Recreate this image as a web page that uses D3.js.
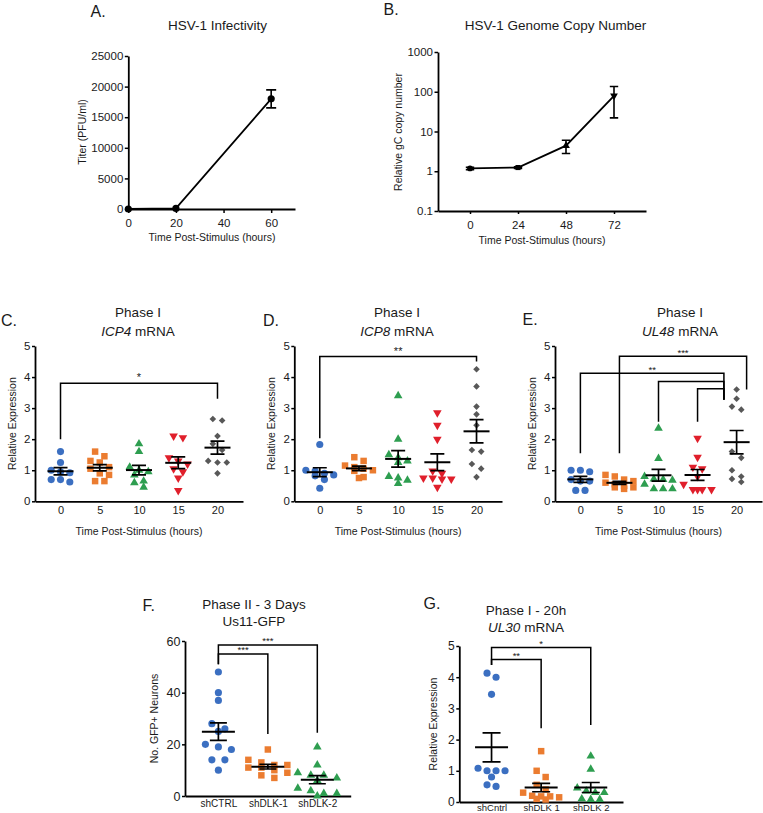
<!DOCTYPE html>
<html><head><meta charset="utf-8">
<script src="https://cdn.jsdelivr.net/npm/d3@7"></script>
<style>
body{margin:0;background:#fff}
svg{display:block}
text{font-family:"Liberation Sans",Arial,sans-serif;fill:#1a1a1a}
</style>
</head><body>
<svg id="c" width="763" height="813"></svg>
<script>
// ---------------- DATA ----------------
// A. HSV-1 infectivity
const infX = [0, 20, 60];
const infY = [0, 100, 18000];
const infSem = [0, 60, 1470];
const infTicksY = [0, 5000, 10000, 15000, 20000, 25000];
const infTicksX = [0, 20, 40, 60];

// B. Genome copy number
const gcX = [0, 24, 48, 72];
const gcY = [1.18, 1.24, 4.4, 79];
const gcSem = [0.08, 0.06, 1.6, 57];
const gcTicksY = [0.1, 1, 10, 100, 1000];
const gcTicksX = [0, 24, 48, 72];

// C-E. Phase I time course
const timeCats = ["0", "5", "10", "15", "20"];
const relTicks = [0, 1, 2, 3, 4, 5];
const icp4 = [
  [1.6, 1.25, 1.0, 0.95, 0.92, 0.7, 0.7, 0.62],
  [1.6, 1.45, 1.3, 1.25, 1.1, 1.05, 0.9, 0.85, 0.65, 0.65],
  [1.85, 1.6, 1.1, 1.0, 0.95, 0.85, 0.65, 0.6, 0.45],
  [2.1, 2.05, 1.4, 1.3, 1.2, 1.05, 0.95, 0.75, 0.35],
  [2.65, 2.6, 2.1, 1.85, 1.65, 1.3, 1.25, 1.25, 0.9]
];
const icp8 = [
  [1.83, 1.0, 0.97, 0.9, 0.85, 0.82, 0.7, 0.42],
  [1.42, 1.3, 1.15, 1.1, 1.05, 1.0, 0.98, 0.78, 0.75],
  [3.4, 2.0, 1.5, 1.4, 1.3, 1.25, 0.8, 0.75, 0.68, 0.57],
  [2.85, 2.45, 2.0, 0.98, 0.9, 0.75, 0.75, 0.72, 0.72, 0.45],
  [4.25, 3.7, 3.05, 2.8, 2.45, 1.65, 1.6, 1.2, 1.05, 0.78]
];
const ul48 = [
  [1.0, 1.0, 0.95, 0.7, 0.65, 0.65, 0.35, 0.35],
  [0.85, 0.8, 0.7, 0.65, 0.6, 0.55, 0.5, 0.45, 0.45, 0.4],
  [2.35, 1.38, 0.8, 0.72, 0.7, 0.68, 0.55, 0.4, 0.4, 0.4],
  [2.03, 1.42, 1.1, 1.05, 0.8, 0.55, 0.38, 0.38, 0.38, 0.38],
  [3.6, 3.3, 3.05, 2.95, 1.6, 1.4, 1.0, 0.8, 0.72, 0.62]
];

// F. Us11-GFP
const shCatsF = ["shCTRL", "shDLK-1", "shDLK-2"];
const gfpTicks = [0, 20, 40, 60];
const gfp = [
  [48, 40, 37, 28, 26, 25, 20, 19, 18, 14, 14, 10],
  [18, 14, 13, 12, 12, 11, 11, 10, 9, 8, 7],
  [19, 12, 9, 8, 8, 7, 6, 3, 2, 1, 1, 0]
];

// G. UL30
const shCatsG = ["shCntrl", "shDLK 1", "shDLK 2"];
const ul30 = [
  [4.13, 4.0, 3.45, 1.08, 1.0, 1.0, 1.0, 0.8, 0.55, 0.5],
  [1.63, 1.0, 0.8, 0.55, 0.4, 0.3, 0.2, 0.18, 0.18, 0.15, 0.1, 0.08],
  [1.47, 1.05, 0.45, 0.35, 0.3, 0.3, 0.1, 0.08, 0.08]
];

// significance brackets (values in data units)
const icp4Brackets = [{from: "0", to: "20", yFrom: 2.0, yTop: 3.8, yTo: 3.3, label: "*", side: 0}];
const icp8Brackets = [{from: "0", to: "20", yFrom: 2.03, yTop: 4.66, yTo: 4.5, label: "**", side: 0}];
const ul48Brackets = [
  {from: "5", to: "20", yFrom: 1.55, yTop: 4.67, yTo: 3.6, label: "***", side: 1},
  {from: "0", to: "20", yFrom: 1.55, yTop: 4.12, yTo: 3.27, label: "**", side: -1},
  {from: "10", to: "20", yFrom: 2.56, yTop: 3.86, yTo: 3.27, label: "", side: -1},
  {from: "15", to: "20", yFrom: 2.56, yTop: 3.62, yTo: 3.27, label: "", side: -1}
];
const gfpBrackets = [
  {from: "shCTRL", to: "shDLK-2", yFrom: 51, yTop: 58.5, yTo: 24.5, label: "***", side: 0},
  {from: "shCTRL", to: "shDLK-1", yFrom: 51, yTop: 55, yTo: 24, label: "***", side: 0}
];
const ul30Brackets = [
  {from: "shCntrl", to: "shDLK 2", yFrom: 4.39, yTop: 4.95, yTo: 2.47, label: "*", side: 0},
  {from: "shCntrl", to: "shDLK 1", yFrom: 4.39, yTop: 4.57, yTo: 2.36, label: "**", side: 0}
];

const phaseColors = ["#3b6fc1", "#eb7c30", "#2e9e50", "#e01f2b", "#585858"];
const phaseShapes = ["circle", "square", "triangle", "triangleDown", "diamond"];

// ---------------- DRAWING ----------------
const svg = d3.select("#c");
svg.append("rect").attr("width", 763).attr("height", 813).attr("fill", "#fff");
const FONT = '"Liberation Sans", Arial, sans-serif';

function styleAxis(g, fs) {
  g.attr("font-family", FONT).attr("font-size", fs);
  g.select(".domain").attr("stroke", "#000").attr("stroke-width", 1.8);
  g.selectAll(".tick line").attr("stroke", "#000").attr("stroke-width", 1.5);
  g.selectAll(".tick text").attr("fill", "#1a1a1a");
}
function txt(x, y, s, fs, anchor) {
  return svg.append("text").attr("x", x).attr("y", y).attr("font-size", fs)
    .attr("text-anchor", anchor || "middle").text(s);
}
function vtxt(x, y, s, fs) {
  svg.append("text").attr("transform", `translate(${x},${y}) rotate(-90)`)
    .attr("text-anchor", "middle").attr("dominant-baseline", "central")
    .attr("font-size", fs).text(s);
}
function symPath(shape) {
  switch (shape) {
    case "circle": return d3.symbol(d3.symbolCircle, 40)();
    case "square": return d3.symbol(d3.symbolSquare, 42)();
    case "triangle": return d3.symbol(d3.symbolTriangle, 32)();
    case "triangleDown": return d3.symbol(d3.symbolTriangle, 32)();
    case "diamond": return d3.symbol(d3.symbolSquare, 22)();
  }
}
function symRot(shape) {
  return shape === "triangleDown" ? 180 : (shape === "diamond" ? 45 : 0);
}

// row-based swarm (GraphPad-like)
function swarm(values, cx, y, step, minDy, maxRow) {
  const idx = values.map((v, i) => i).sort((a, b) => values[b] - values[a]);
  const rows = [];
  idx.forEach(i => {
    const py = y(values[i]);
    const r = rows[rows.length - 1];
    if (r && Math.abs(py - r.y0) < minDy && r.items.length < maxRow) r.items.push(i);
    else rows.push({y0: py, items: [i]});
  });
  const out = [];
  rows.forEach(r => {
    const n = r.items.length;
    r.items.forEach((i, j) => {
      out.push({x: cx + (j - (n - 1) / 2) * step, y: y(values[i])});
    });
  });
  return out;
}

// Panel A
(function () {
  const x = d3.scaleLinear().domain([0, 70]).range([128.3, 295]);
  const y = d3.scaleLinear().domain([0, 25000]).range([209, 56]);
  const g = svg.append("g");
  g.append("g").attr("transform", "translate(0,209)")
    .call(d3.axisBottom(x).tickValues(infTicksX).tickFormat(d3.format("d")).tickSize(4).tickSizeOuter(0).tickPadding(5.5))
    .call(a => styleAxis(a, 11.5));
  g.append("g").attr("transform", "translate(128.3,0)")
    .call(d3.axisLeft(y).tickValues(infTicksY).tickFormat(d3.format("d")).tickSize(3.5).tickSizeOuter(0).tickPadding(1.5))
    .call(a => styleAxis(a, 11.5));
  const pts = infX.map((d, i) => [x(d), y(infY[i])]);
  g.append("path").attr("d", d3.line()(pts)).attr("fill", "none").attr("stroke", "#000").attr("stroke-width", 1.8);
  infX.forEach((d, i) => {
    if (infSem[i] > 200) {
      const cx = x(d), y1 = y(infY[i] + infSem[i]), y2 = y(infY[i] - infSem[i]);
      g.append("path").attr("d", `M${cx},${y1}V${y2}M${cx - 5},${y1}H${cx + 5}M${cx - 5},${y2}H${cx + 5}`)
        .attr("stroke", "#000").attr("stroke-width", 1.6).attr("fill", "none");
    }
    g.append("circle").attr("cx", x(d)).attr("cy", y(infY[i])).attr("r", 3.6).attr("fill", "#000");
  });
  txt(90.5, 17, "A.", 16, "start");
  txt(217.5, 30, "HSV-1 Infectivity", 13.5);
  vtxt(82, 132, "Titer (PFU/ml)", 10.5);
  txt(212, 241, "Time Post-Stimulus (hours)", 10.5);
})();

// Panel B
(function () {
  const x = d3.scaleLinear().domain([-16, 88]).range([438, 646]);
  const y = d3.scaleLog().domain([0.1, 1000]).range([211, 52]);
  const g = svg.append("g");
  g.append("g").attr("transform", "translate(0,211)")
    .call(d3.axisBottom(x).tickValues(gcTicksX).tickFormat(d3.format("d")).tickSize(3).tickSizeOuter(0).tickPadding(6.5))
    .call(a => styleAxis(a, 11.5));
  g.append("g").attr("transform", "translate(438,0)")
    .call(d3.axisLeft(y).tickValues(gcTicksY).tickFormat(d => String(d)).tickSize(3.5).tickSizeOuter(0).tickPadding(1.5))
    .call(a => styleAxis(a, 11.5));
  const pts = gcX.map((d, i) => [x(d), y(gcY[i])]);
  g.append("path").attr("d", d3.line()(pts)).attr("fill", "none").attr("stroke", "#000").attr("stroke-width", 1.8);
  const shapes = ["circle", "square", "triangle", "triangleDown"];
  gcX.forEach((d, i) => {
    const cx = x(d), y1 = y(gcY[i] + gcSem[i]), y2 = y(gcY[i] - gcSem[i]);
    g.append("path").attr("d", `M${cx},${y1}V${y2}M${cx - 4.2},${y1}H${cx + 4.2}M${cx - 4.2},${y2}H${cx + 4.2}`)
      .attr("stroke", "#000").attr("stroke-width", 1.6).attr("fill", "none");
    g.append("path").attr("d", d3.symbol(shapes[i] === "circle" ? d3.symbolCircle : shapes[i] === "square" ? d3.symbolSquare : d3.symbolTriangle, 26)())
      .attr("transform", `translate(${cx},${y(gcY[i])}) rotate(${shapes[i] === "triangleDown" ? 180 : 0})`)
      .attr("fill", "#000");
  });
  txt(383.5, 15, "B.", 16, "start");
  txt(555.5, 30, "HSV-1 Genome Copy Number", 13.5);
  vtxt(397.5, 132, "Relative gC copy number", 10.5);
  txt(542, 244, "Time Post-Stimulus (hours)", 10.5);
})();

// generic scatter panel
function scatterPanel(c) {
  const g = svg.append("g");
  const y = d3.scaleLinear().domain(c.yDomain).range([c.yBottom, c.yTop]);
  const x = d3.scalePoint().domain(c.cats).range([c.axisX, c.axisEnd]).padding(c.pad);
  g.append("g").attr("transform", `translate(0,${c.yBottom})`)
    .call(d3.axisBottom(x).tickSize(0).tickSizeOuter(0).tickPadding(c.catPad))
    .call(a => styleAxis(a, c.catFont));
  g.append("g").attr("transform", `translate(${c.axisX},0)`)
    .call(d3.axisLeft(y).tickValues(c.yTicks).tickFormat(d3.format("d")).tickSize(3).tickSizeOuter(0).tickPadding(1.5))
    .call(a => styleAxis(a, c.tickFont));

  // points
  c.groups.forEach((vals, gi) => {
    const cx = x(c.cats[gi]);
    const pos = swarm(vals, cx, y, c.step, 6.8, c.maxRow);
    const shape = c.shapes[gi];
    g.selectAll(null).data(pos).enter().append("path")
      .attr("d", symPath(shape))
      .attr("transform", p => `translate(${p.x},${p.y}) rotate(${symRot(shape)})`)
      .attr("fill", c.colors[gi]);
  });
  // mean +/- SEM
  c.groups.forEach((vals, gi) => {
    const cx = x(c.cats[gi]);
    const m = d3.mean(vals), sem = d3.deviation(vals) / Math.sqrt(vals.length);
    const ym = y(m), y1 = y(m + sem), y2 = y(m - sem);
    g.append("path").attr("d", `M${cx - c.meanHalf},${ym}H${cx + c.meanHalf}`)
      .attr("stroke", "#000").attr("stroke-width", 2);
    g.append("path").attr("d", `M${cx},${y1}V${y2}M${cx - c.capHalf},${y1}H${cx + c.capHalf}M${cx - c.capHalf},${y2}H${cx + c.capHalf}`)
      .attr("stroke", "#000").attr("stroke-width", 1.7).attr("fill", "none");
  });
  // brackets
  c.brackets.forEach(b => {
    const x1 = x(b.from), x2 = x(b.to) + (b.side < 0 ? -12.7 : b.side > 0 ? 10 : 0);
    g.append("path").attr("d", `M${x1},${y(b.yFrom)}V${y(b.yTop)}H${x2}V${y(b.yTo)}`)
      .attr("fill", "none").attr("stroke", "#000").attr("stroke-width", 1.5);
    if (b.label) {
      g.append("text").attr("x", (x1 + x2) / 2).attr("y", y(b.yTop) - c.starGap)
        .attr("text-anchor", "middle").attr("font-size", c.starFont).text(b.label);
    }
  });
  // texts
  txt(c.letterX, c.letterY, c.letter, 16, "start");
  txt(c.titleX, c.titleY[0], c.title[0], 13.5);
  const t2 = svg.append("text").attr("x", c.titleX).attr("y", c.titleY[1])
    .attr("font-size", 13.5).attr("text-anchor", "middle");
  c.title[1].forEach(([s, it]) => t2.append("tspan").attr("font-style", it ? "italic" : "normal").text(s));
  vtxt(c.ylabelX, (c.yTop + c.yBottom) / 2, c.ylabel, 10.5);
  if (c.xlabel) txt((c.axisX + Math.min(c.axisEnd, 763)) / 2 + c.xlabelShift, c.xlabelY, c.xlabel, 10.5);
}

const common = {
  yDomain: [0, 5], yTicks: relTicks, yTop: 346, yBottom: 501.3, pad: 0.65,
  cats: timeCats, colors: phaseColors, shapes: phaseShapes,
  step: 9.3, maxRow: 4, meanHalf: 13, capHalf: 7, tickFont: 11.5, catFont: 11, catPad: 4.8,
  ylabel: "Relative Expression", xlabel: "Time Post-Stimulus (hours)", xlabelY: 535, xlabelShift: 0
};
scatterPanel(Object.assign({}, common, {
  axisX: 35, axisEnd: 243, groups: icp4, brackets: icp4Brackets,
  letter: "C.", letterX: 1, letterY: 326, titleX: 138, titleY: [317, 336],
  title: ["Phase I", [["ICP4", true], [" mRNA", false]]], ylabelX: 11.5, starFont: 11, starGap: 2
}));
scatterPanel(Object.assign({}, common, {
  axisX: 294.3, axisEnd: 502, groups: icp8, brackets: icp8Brackets,
  letter: "D.", letterX: 263, letterY: 326, titleX: 397, titleY: [317, 336],
  title: ["Phase I", [["ICP8", true], [" mRNA", false]]], ylabelX: 271, starFont: 11, starGap: 2
}));
scatterPanel(Object.assign({}, common, {
  axisX: 555, axisEnd: 762, groups: ul48, brackets: ul48Brackets,
  letter: "E.", letterX: 522.5, letterY: 325, titleX: 680, titleY: [317, 336],
  title: ["Phase I", [["UL48", true], [" mRNA", false]]], ylabelX: 532, starFont: 9.5, starGap: 0.5
}));
scatterPanel({
  yDomain: [0, 60], yTicks: gfpTicks, yTop: 641, yBottom: 796, pad: 0.675,
  cats: shCatsF, colors: phaseColors, shapes: phaseShapes, groups: gfp, brackets: gfpBrackets,
  axisX: 185, axisEnd: 350.7, step: 13, maxRow: 5, meanHalf: 16.5, capHalf: 8.5,
  tickFont: 12.5, catFont: 10, catPad: 4,
  letter: "F.", letterX: 142.5, letterY: 611, titleX: 254, titleY: [609, 626],
  title: ["Phase II - 3 Days", [["Us11-GFP", false]]],
  ylabel: "No. GFP+ Neurons", ylabelX: 153.5, xlabel: null, starFont: 9.5, starGap: 0.5
});
scatterPanel({
  yDomain: [0, 5], yTicks: relTicks, yTop: 646, yBottom: 802, pad: 0.65,
  cats: shCatsG, colors: phaseColors, shapes: phaseShapes, groups: ul30, brackets: ul30Brackets,
  axisX: 459.3, axisEnd: 623, step: 9, maxRow: 5, meanHalf: 16.5, capHalf: 9,
  tickFont: 12, catFont: 9.5, catPad: 2.5,
  letter: "G.", letterX: 423.5, letterY: 609, titleX: 526, titleY: [615, 632],
  title: ["Phase I - 20h", [["UL30", true], [" mRNA", false]]],
  ylabel: "Relative Expression", ylabelX: 432.5, xlabel: null, starFont: 9.5, starGap: 0.5
});
</script>
</body></html>
